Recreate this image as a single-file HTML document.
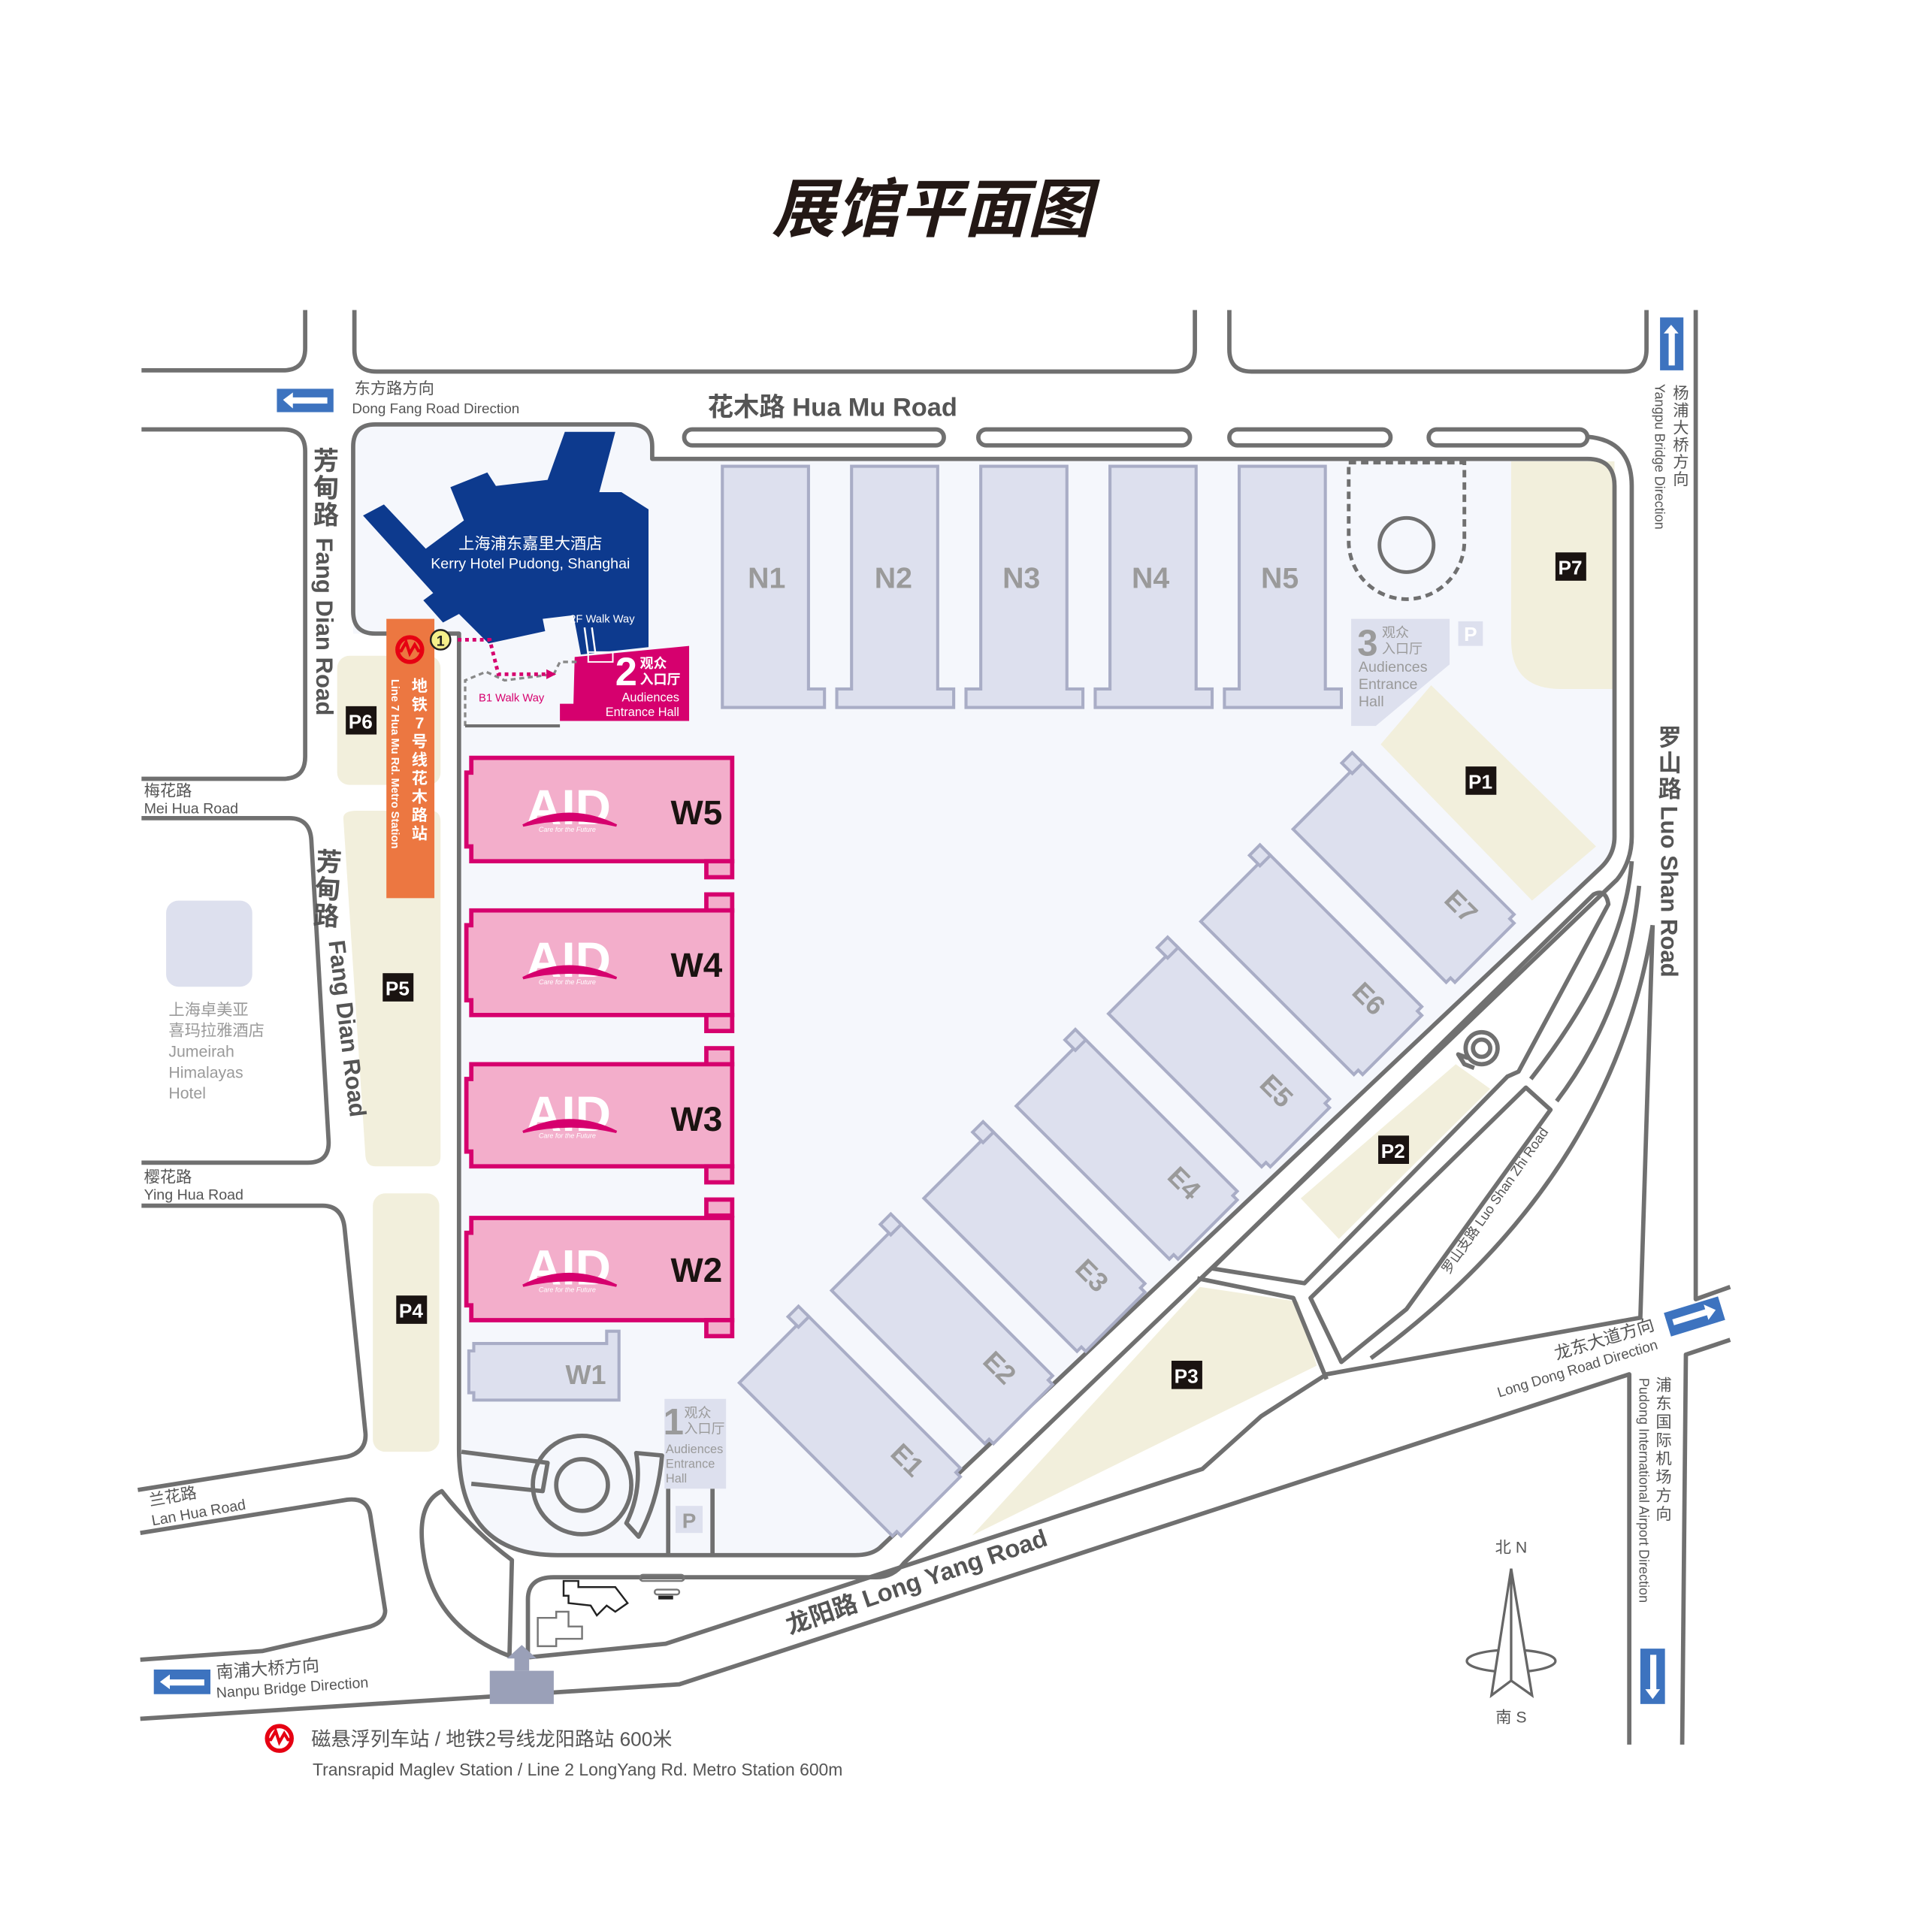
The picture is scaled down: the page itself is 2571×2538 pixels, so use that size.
<!DOCTYPE html>
<html><head><meta charset="utf-8"><style>
html,body{margin:0;padding:0;background:#fff;}
svg{display:block;}
text{font-family:"Liberation Sans","Noto Sans CJK SC",sans-serif;}
</style></head><body>
<svg width="2571" height="2538" viewBox="0 0 1570 1550" preserveAspectRatio="none" xmlns="http://www.w3.org/2000/svg">
<rect width="1570" height="1550" fill="#fff"/>
<text x="757" y="188" font-size="52" font-weight="bold" font-style="italic" text-anchor="middle" fill="#231815" font-family="'Noto Sans CJK SC',sans-serif">展馆平面图</text>

<path d="M287,363 Q287,345 305,345 H512 Q530,345 530,363 V373 H1290 Q1312,373 1312,395 V680 Q1312,695 1300,706 L715,1258 Q708,1264 695,1264 H453 Q373,1264 373,1178 V515 H287 Z" fill="#f5f7fc"/>

<g fill="#f2efdc">
<path d="M1228,375 H1312 V560 H1268 Q1228,560 1228,520 Z"/>
<path d="M1122,605 L1163,557 L1297,688 L1245,732 Z"/>
<path d="M1057,974 L1183,865 L1211,885 L1088,1007 Z"/>
<path d="M790,1248 L975,1046 L1055,1058 L1070,1110 Z"/>
<rect x="274" y="533" width="84" height="105" rx="10"/>
<path d="M279,665 Q279,659 290,659 H350 Q358,659 358,668 V940 Q358,948 350,948 H305 Q298,948 297,940 Z"/>
<rect x="303" y="970" width="54" height="210" rx="10"/>
</g>

<g fill="none" stroke="#707070" stroke-width="3.5" stroke-linejoin="round">
<path d="M248,252 V283 Q248,301 230,301 H115"/>
<path d="M288,252 V284 Q288,302 306,302 H953 Q971,302 971,284 V252"/>
<path d="M999,252 V284 Q999,302 1017,302 H1320 Q1338,302 1338,284 V252"/>
<path d="M1378,252 V1056 L1406,1046"/>
<path d="M1406,1089 L1370,1101 L1367,1418"/>
<path d="M1324,1418 V1117 L552,1369 L398,1379 L114,1397"/>
<path d="M430,1347 L541,1336 L977,1194 L1025,1151 L1078,1117 L1333,1071 L1343,752"/>
<path d="M287,363 Q287,345 305,345 H512 Q530,345 530,363 V373 H1290 Q1312,373 1312,395 V680 Q1312,695 1300,706 L715,1258 Q708,1264 695,1264 H453 Q373,1264 373,1178 V515 H305 Q287,515 287,497 Z"/>
<path d="M1290,355 Q1326,358 1326,395 V680 Q1326,700 1314,715 L735,1270 Q726,1282 712,1282 H450 Q429,1282 429,1300 V1347"/>
<path d="M1326,700 Q1320,780 1244,877"/>
<path d="M1332,720 Q1322,820 1265,895"/>
<path d="M1343,752 Q1310,960 1114,1104"/>
<path d="M985,1031 L1295,727 Q1305,722 1307,735 L1234,871 L1225,875 L1060,1043 Z"/>
<path d="M1065,1055 L1240,884 L1260,902 L1143,1064 L1090,1107 Z"/>
<path d="M973,1039 L1051,1055 L1078,1121"/>
<rect x="556" y="349" width="211" height="13" rx="6.5"/>
<rect x="795" y="349" width="172" height="13" rx="6.5"/>
<rect x="999" y="349" width="131" height="13" rx="6.5"/>
<rect x="1161" y="349" width="129" height="13" rx="6.5"/>
<path d="M115,349 H230 Q248,349 248,367 V615 Q248,633 230,633 H115"/>
<path d="M115,665 H235 Q252,665 253,683 L267,927 Q268,945 250,945 H115"/>
<path d="M115,980 H262 Q278,980 280,998 L297,1165 Q298,1180 282,1184 L112,1211"/>
<path d="M114,1246 L282,1219 Q299,1217 301,1232 L313,1309 Q313,1318 301,1322 L213,1342 L114,1349"/>
<path d="M359,1212 Q338,1222 344,1262 Q352,1322 414,1346 L416,1268 Q385,1245 359,1212 Z"/>
<path d="M375,1180 L445,1189 L441,1212 L383,1206"/>
<circle cx="473" cy="1207" r="40"/>
<circle cx="473" cy="1207" r="21"/>
<path d="M517,1181 L538,1183 Q535,1220 519,1249 L509,1238 Q522,1212 517,1181 Z"/>
<path d="M543,1210 V1264 M579,1210 V1264"/>
<circle cx="1204" cy="852" r="13"/>
<circle cx="1204" cy="852" r="7"/>
<path d="M1193,860 L1185,857 L1190,865 L1198,868"/>
</g>
<g fill="none" stroke="#222" stroke-width="1.5">
<path d="M458,1285 H470 V1290 H500 L510,1303 L500,1310 L493,1305 L485,1313 L480,1305 L462,1303 V1297 H458 Z"/>
</g>
<g fill="none" stroke="#777" stroke-width="1.5">
<path d="M437,1315 H452 V1310 H462 V1322 H473 V1332 H452 V1338 H437 Z"/>
<rect x="520" y="1280" width="36" height="5" rx="2.5"/>
<rect x="532" y="1292" width="20" height="4" rx="2"/>
</g>
<rect x="535" y="1297" width="12" height="3" fill="#222"/>

<rect x="398" y="1358" width="52" height="27" fill="#9aa0b8"/>
<path d="M418,1358 V1348 H412 L424,1337 L436,1348 H430 V1358 Z" fill="#9aa0b8"/>

<g fill="#dde0ee" stroke="#a9adc6" stroke-width="2.5">
<path d="M587,379 H657 V560 H670 V575 H587 Z"/>
<path d="M692,379 H762 V560 H775 V575 H680 V560 H692 Z"/>
<path d="M797,379 H867 V560 H880 V575 H785 V560 H797 Z"/>
<path d="M902,379 H972 V560 H985 V575 H890 V560 H902 Z"/>
<path d="M1007,379 H1077 V560 H1090 V575 H995 V560 H1007 Z"/>
</g>
<g font-size="24" font-weight="bold" fill="#9a9a9a" text-anchor="middle">
<text x="623" y="478">N1</text><text x="726" y="478">N2</text><text x="830" y="478">N3</text><text x="935" y="478">N4</text><text x="1040" y="478">N5</text>
</g>
<path d="M1096,376 H1190 V440 A47,47 0 0 1 1096,440 Z" fill="none" stroke="#707070" stroke-width="3" stroke-dasharray="6,4"/>
<circle cx="1143" cy="443" r="22" fill="none" stroke="#707070" stroke-width="3"/>
<path d="M1098,503 H1178 V540 L1118,590 H1098 Z" fill="#dde0ee"/>
<text x="1103" y="533" font-size="30" font-weight="bold" fill="#9a9a9a">3</text>
<text x="1123" y="518" font-size="11" fill="#9a9a9a">观众</text>
<text x="1123" y="531" font-size="11" fill="#9a9a9a">入口厅</text>
<text x="1104" y="546" font-size="12" fill="#9a9a9a">Audiences</text>
<text x="1104" y="560" font-size="12" fill="#9a9a9a">Entrance</text>
<text x="1104" y="574" font-size="12" fill="#9a9a9a">Hall</text>
<rect x="1185" y="505" width="20" height="20" fill="#dde0ee"/>
<text x="1195" y="521" font-size="16" font-weight="bold" fill="#fff" text-anchor="middle">P</text>

<g fill="#dde0ee" stroke="#a9adc6" stroke-width="2.5">
<g transform="translate(692,1160) rotate(45)"><path d="M-90,-39 H86 V-34 H91 V34 H86 V39 H-90 Z"/><rect x="-100" y="-39" width="12" height="12"/></g>
<g transform="translate(767,1085) rotate(45)"><path d="M-90,-39 H86 V-34 H91 V34 H86 V39 H-90 Z"/><rect x="-100" y="-39" width="12" height="12"/></g>
<g transform="translate(842,1010) rotate(45)"><path d="M-90,-39 H86 V-34 H91 V34 H86 V39 H-90 Z"/><rect x="-100" y="-39" width="12" height="12"/></g>
<g transform="translate(917,935) rotate(45)"><path d="M-90,-39 H86 V-34 H91 V34 H86 V39 H-90 Z"/><rect x="-100" y="-39" width="12" height="12"/></g>
<g transform="translate(992,860) rotate(45)"><path d="M-90,-39 H86 V-34 H91 V34 H86 V39 H-90 Z"/><rect x="-100" y="-39" width="12" height="12"/></g>
<g transform="translate(1067,785) rotate(45)"><path d="M-90,-39 H86 V-34 H91 V34 H86 V39 H-90 Z"/><rect x="-100" y="-39" width="12" height="12"/></g>
<g transform="translate(1142,710) rotate(45)"><path d="M-90,-39 H86 V-34 H91 V34 H86 V39 H-90 Z"/><rect x="-100" y="-39" width="12" height="12"/></g>
</g>
<g font-size="22" font-weight="bold" fill="#9a9a9a" text-anchor="middle">
<text transform="translate(732,1192) rotate(45)">E1</text>
<text transform="translate(807,1117) rotate(45)">E2</text>
<text transform="translate(882,1042) rotate(45)">E3</text>
<text transform="translate(957,967) rotate(45)">E4</text>
<text transform="translate(1032,892) rotate(45)">E5</text>
<text transform="translate(1107,817) rotate(45)">E6</text>
<text transform="translate(1182,742) rotate(45)">E7</text>
</g>

<g fill="#f3aecb" stroke="#d6006e" stroke-width="3.5">
<path d="M383,616 H595 V700 H383 V688 H379 V628 H383 Z"/><rect x="574" y="700" width="21" height="13"/>
<rect x="574" y="727" width="21" height="13"/><path d="M383,740 H595 V825 H383 V813 H379 V752 H383 Z"/><rect x="574" y="825" width="21" height="13"/>
<rect x="574" y="852" width="21" height="13"/><path d="M383,865 H595 V948 H383 V936 H379 V877 H383 Z"/><rect x="574" y="948" width="21" height="13"/>
<rect x="574" y="975" width="21" height="13"/><path d="M383,990 H595 V1073 H383 V1061 H379 V1002 H383 Z"/><rect x="574" y="1073" width="21" height="13"/>
</g>
<g>
<g>
<text x="462" y="670" font-size="40" font-weight="bold" fill="#fff" text-anchor="middle">AID</text>
<path d="M425,671 Q462,652 501,671 Q462,662 425,671 Z" fill="#d6006e" stroke="#d6006e" stroke-width="2"/>
<text x="461" y="676" font-size="5.5" font-style="italic" fill="#fff" text-anchor="middle">Care for the Future</text>
</g>
<g transform="translate(0,124)">
<text x="462" y="670" font-size="40" font-weight="bold" fill="#fff" text-anchor="middle">AID</text>
<path d="M425,671 Q462,652 501,671 Q462,662 425,671 Z" fill="#d6006e" stroke="#d6006e" stroke-width="2"/>
<text x="461" y="676" font-size="5.5" font-style="italic" fill="#fff" text-anchor="middle">Care for the Future</text>
</g>
<g transform="translate(0,249)">
<text x="462" y="670" font-size="40" font-weight="bold" fill="#fff" text-anchor="middle">AID</text>
<path d="M425,671 Q462,652 501,671 Q462,662 425,671 Z" fill="#d6006e" stroke="#d6006e" stroke-width="2"/>
<text x="461" y="676" font-size="5.5" font-style="italic" fill="#fff" text-anchor="middle">Care for the Future</text>
</g>
<g transform="translate(0,374)">
<text x="462" y="670" font-size="40" font-weight="bold" fill="#fff" text-anchor="middle">AID</text>
<path d="M425,671 Q462,652 501,671 Q462,662 425,671 Z" fill="#d6006e" stroke="#d6006e" stroke-width="2"/>
<text x="461" y="676" font-size="5.5" font-style="italic" fill="#fff" text-anchor="middle">Care for the Future</text>
</g>
</g>
<g font-size="28" font-weight="bold" fill="#1a1311" text-anchor="middle">
<text x="566" y="670">W5</text><text x="566" y="794">W4</text><text x="566" y="919">W3</text><text x="566" y="1042">W2</text>
</g>
<path d="M385,1092 H493 V1082 H503 V1138 H385 V1132 H381 V1098 H385 Z" fill="#dde0ee" stroke="#a9adc6" stroke-width="2.5"/>
<text x="476" y="1125" font-size="22" font-weight="bold" fill="#9a9a9a" text-anchor="middle">W1</text>
<rect x="540" y="1137" width="50" height="73" fill="#dde0ee"/>
<text x="539" y="1166" font-size="30" font-weight="bold" fill="#9a9a9a">1</text>
<text x="556" y="1152" font-size="11" fill="#9a9a9a">观众</text>
<text x="556" y="1165" font-size="11" fill="#9a9a9a">入口厅</text>
<text x="541" y="1181" font-size="10" fill="#9a9a9a">Audiences</text>
<text x="541" y="1193" font-size="10" fill="#9a9a9a">Entrance</text>
<text x="541" y="1205" font-size="10" fill="#9a9a9a">Hall</text>
<rect x="549" y="1224" width="22" height="22" fill="#dde0ee"/>
<text x="560" y="1242" font-size="17" font-weight="bold" fill="#9a9a9a" text-anchor="middle">P</text>

<path d="M295,419 L312,410 L346,446 L377,423 L366,396 L396,384 L403,395 L445,390 L459,351 L500,351 L487,400 L505,400 L527,414 L527,526 L472,532 L466,500 L441,503 L443,513 L397,523 L373,499 L360,506 L344,488 L352,482 Z" fill="#0d3a8e"/>
<text x="431" y="446" font-size="13" fill="#fff" text-anchor="middle">上海浦东嘉里大酒店</text>
<text x="431" y="462" font-size="12" fill="#fff" text-anchor="middle">Kerry Hotel Pudong, Shanghai</text>
<text x="463" y="506" font-size="9" fill="#fff">2F Walk Way</text>
<path d="M475,510 L478,532 M481,510 L484,532" stroke="#fff" stroke-width="1.5"/>
<path d="M467,534 L560,525 V586 H455 V572 H466 Z" fill="#d6006e"/>
<rect x="478" y="530" width="20" height="8" fill="none" stroke="#fff" stroke-width="1.2"/>
<text x="500" y="557" font-size="32" font-weight="bold" fill="#fff">2</text>
<text x="520" y="543" font-size="11" font-weight="bold" fill="#fff">观众</text>
<text x="520" y="556" font-size="11" font-weight="bold" fill="#fff">入口厅</text>
<text x="552" y="570" font-size="10" fill="#fff" text-anchor="end">Audiences</text>
<text x="552" y="582" font-size="10" fill="#fff" text-anchor="end">Entrance Hall</text>
<path d="M378,590 V553 L395,546 L410,553 L450,548 L455,538 L470,538" fill="none" stroke="#888" stroke-width="2" stroke-dasharray="4,3"/>
<path d="M378,590 H455" stroke="#707070" stroke-width="2.5"/>
<path d="M372,520 H398 L405,548 H445" fill="none" stroke="#d6006e" stroke-width="3" stroke-dasharray="3,3"/>
<path d="M444,544 L452,548 L444,552 Z" fill="#d6006e"/>
<text x="389" y="570" font-size="9" fill="#d6006e">B1 Walk Way</text>

<rect x="314" y="503" width="39" height="227" fill="#ec7741"/>
<circle cx="333" cy="528" r="10" fill="none" stroke="#e60012" stroke-width="3.5"/>
<path d="M322,529 H326 L330,522 L333,531 L337,524 L340,529 H344" fill="none" stroke="#e60012" stroke-width="2.5"/>
<text transform="translate(341,550)" font-size="13" font-weight="bold" fill="#fff" text-anchor="middle"><tspan x="0" dy="12">地</tspan><tspan x="0" dy="15">铁</tspan><tspan x="0" dy="15">7</tspan><tspan x="0" dy="15">号</tspan><tspan x="0" dy="15">线</tspan><tspan x="0" dy="15">花</tspan><tspan x="0" dy="15">木</tspan><tspan x="0" dy="15">路</tspan><tspan x="0" dy="15">站</tspan></text>
<text transform="translate(318,552) rotate(90)" font-size="9" font-weight="bold" fill="#fff">Line 7 Hua Mu Rd. Metro Station</text>
<circle cx="358" cy="520" r="8" fill="#f5ef8a" stroke="#222" stroke-width="1.5"/>
<text x="358" y="525" font-size="12" font-weight="bold" fill="#222" text-anchor="middle">1</text>

<g font-size="16" font-weight="bold" fill="#fff" text-anchor="middle">
<rect x="1264" y="449" width="25" height="23" fill="#1a1311"/><text x="1276" y="467">P7</text>
<rect x="1191" y="623" width="25" height="23" fill="#1a1311"/><text x="1203" y="641">P1</text>
<rect x="1120" y="923" width="25" height="23" fill="#1a1311"/><text x="1132" y="941">P2</text>
<rect x="952" y="1106" width="25" height="23" fill="#1a1311"/><text x="964" y="1124">P3</text>
<rect x="281" y="574" width="25" height="23" fill="#1a1311"/><text x="293" y="592">P6</text>
<rect x="311" y="791" width="25" height="23" fill="#1a1311"/><text x="323" y="809">P5</text>
<rect x="322" y="1053" width="25" height="23" fill="#1a1311"/><text x="334" y="1071">P4</text>
</g>

<rect x="135" y="732" width="70" height="70" rx="10" fill="#dde0ee"/>
<g font-size="13" fill="#9a9a9a">
<text x="137" y="825">上海卓美亚</text><text x="137" y="842">喜玛拉雅酒店</text><text x="137" y="859">Jumeirah</text><text x="137" y="876">Himalayas</text><text x="137" y="893">Hotel</text>
</g>

<g fill="#3d73bf">
<rect x="225" y="316" width="46" height="19"/>
<rect x="1349" y="258" width="19" height="43"/>
<rect x="1333" y="1340" width="20" height="45"/>
<rect x="125" y="1357" width="46" height="20"/>
<rect x="1354" y="1060" width="46" height="20" transform="rotate(-17 1377 1070)"/>
</g>
<g fill="#fff">
<path d="M230,325 L238,319 V323 H266 V328 H238 V332 Z"/>
<path d="M1358,264 L1364,271 H1361 V297 H1356 V271 H1352 Z"/>
<path d="M1343,1381 L1337,1373 H1341 V1345 H1346 V1373 H1349 Z"/>
<path d="M130,1367 L138,1361 V1365 H166 V1370 H138 V1373 Z"/>
<path d="M1395,1070 L1387,1076 V1072 H1359 V1067 H1387 V1063 Z" transform="rotate(-17 1377 1070)"/>
</g>

<g fill="#555">
<text x="288" y="320" font-size="13">东方路方向</text>
<text x="286" y="336" font-size="11.5">Dong Fang Road Direction</text>
<text x="575" y="338" font-size="21" font-weight="bold">花木路 Hua Mu Road</text>
<text transform="translate(265,362)" font-size="21" font-weight="bold" text-anchor="middle"><tspan x="0" dy="20">芳</tspan><tspan x="0" dy="22">甸</tspan><tspan x="0" dy="22">路</tspan></text>
<text transform="translate(257,437) rotate(90)" font-size="19" font-weight="bold">Fang Dian Road</text>
<text transform="translate(268,688) rotate(3)" font-size="21" font-weight="bold" text-anchor="middle"><tspan x="0" dy="20">芳</tspan><tspan x="0" dy="22">甸</tspan><tspan x="0" dy="22">路</tspan></text>
<text transform="translate(267,765) rotate(83)" font-size="19" font-weight="bold">Fang Dian Road</text>
<text x="117" y="647" font-size="13">梅花路</text>
<text x="117" y="661" font-size="12">Mei Hua Road</text>
<text x="117" y="961" font-size="13">樱花路</text>
<text x="117" y="975" font-size="12">Ying Hua Road</text>
<text transform="translate(122,1224) rotate(-10)" font-size="13">兰花路</text>
<text transform="translate(124,1240) rotate(-10)" font-size="12">Lan Hua Road</text>
<text transform="translate(176,1364) rotate(-4)" font-size="14">南浦大桥方向</text>
<text transform="translate(176,1380) rotate(-4)" font-size="12">Nanpu Bridge Direction</text>
<text transform="translate(747,1292) rotate(-19)" font-size="20" font-weight="bold" text-anchor="middle">龙阳路 Long Yang Road</text>
<text transform="translate(1305,1093) rotate(-17)" font-size="14" text-anchor="middle">龙东大道方向</text>
<text transform="translate(1283,1116) rotate(-17)" font-size="11.5" text-anchor="middle">Long Dong Road Direction</text>
<text transform="translate(1218,978) rotate(-55)" font-size="11" text-anchor="middle">罗山支路 Luo Shan Zhi Road</text>
<text transform="translate(1357,588)" font-size="19" font-weight="bold" text-anchor="middle"><tspan x="0" dy="18">罗</tspan><tspan x="0" dy="21">山</tspan><tspan x="0" dy="21">路</tspan></text>
<text transform="translate(1350,655) rotate(90)" font-size="19" font-weight="bold">Luo Shan Road</text>
<text transform="translate(1366,312)" font-size="13" text-anchor="middle"><tspan x="0" dy="12">杨</tspan><tspan x="0" dy="14">浦</tspan><tspan x="0" dy="14">大</tspan><tspan x="0" dy="14">桥</tspan><tspan x="0" dy="14">方</tspan><tspan x="0" dy="14">向</tspan></text>
<text transform="translate(1345,312) rotate(90)" font-size="11">Yangpu Bridge Direction</text>
<text transform="translate(1352,1118)" font-size="13" text-anchor="middle"><tspan x="0" dy="12">浦</tspan><tspan x="0" dy="15">东</tspan><tspan x="0" dy="15">国</tspan><tspan x="0" dy="15">际</tspan><tspan x="0" dy="15">机</tspan><tspan x="0" dy="15">场</tspan><tspan x="0" dy="15">方</tspan><tspan x="0" dy="15">向</tspan></text>
<text transform="translate(1332,1120) rotate(90)" font-size="11">Pudong International Airport Direction</text>
<text x="1228" y="1262" font-size="13" text-anchor="middle">北 N</text>
<text x="1228" y="1400" font-size="13" text-anchor="middle">南 S</text>
<text x="253" y="1419" font-size="16">磁悬浮列车站 / 地铁2号线龙阳路站 600米</text>
<text x="254" y="1443" font-size="14">Transrapid Maglev Station / Line 2 LongYang Rd. Metro Station   600m</text>
</g>
<g fill="none" stroke="#666" stroke-width="2">
<ellipse cx="1228" cy="1350" rx="36" ry="9"/>
<path d="M1228,1275 L1212,1378 L1228,1366 L1245,1378 Z" fill="#fff"/>
<path d="M1228,1275 V1366"/>
</g>
<circle cx="227" cy="1413" r="10" fill="none" stroke="#e60012" stroke-width="3.5"/>
<path d="M216,1414 H220 L224,1407 L227,1416 L231,1409 L234,1414 H238" fill="none" stroke="#e60012" stroke-width="2.5"/>
</svg>
</body></html>
